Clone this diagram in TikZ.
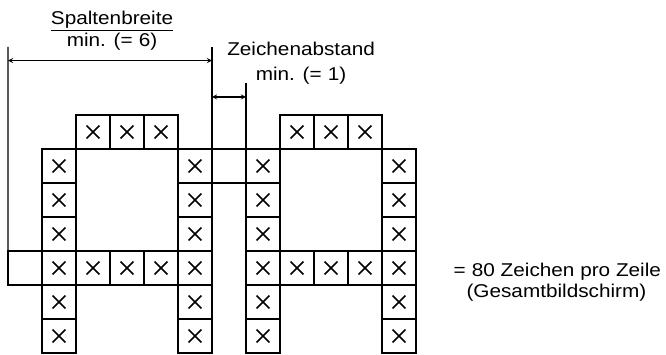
\documentclass[tikz,border=0pt]{standalone}
\usepackage{fontspec}
\setmainfont{Liberation Sans}[FakeStretch=1.12]
\usetikzlibrary{positioning}

\tikzset{
    cellbox/.style={draw, line width=1.1pt, minimum size=1cm, inner sep=0pt, outer sep=0pt},
    xmark/.style={line width=1.3pt},
    txt/.style={inner sep=0pt, anchor=base}
}

\begin{document}
\begin{tikzpicture}[>=stealth, line width=.9pt, font=\fontsize{15.5}{18}\selectfont]
\useasboundingbox (-1.2353,-0.0588) rectangle (18.3529,10.3824);
\foreach \o in {0,6}
{
    \foreach \c in {1,2,3}
    {
        \node[cellbox] (t\o-\c) at (\o+\c+.5,6.5) {};
        \draw[xmark] (t\o-\c.center) ++(-.19,-.19) -- ++(.38,.38) ++(-.38,0) -- ++(.38,-.38);
        \node[cellbox] (b\o-\c) at (\o+\c+.5,2.5) {};
        \draw[xmark] (b\o-\c.center) ++(-.19,-.19) -- ++(.38,.38) ++(-.38,0) -- ++(.38,-.38);
    }
    \foreach \c in {0,4}
    \foreach \r in {0,...,5}
    {
        \node[cellbox] (c\o-\c-\r) at (\o+\c+.5,\r+.5) {};
        \draw[xmark] (c\o-\c-\r.center) ++(-.19,-.19) -- ++(.38,.38) ++(-.38,0) -- ++(.38,-.38);
    }
}
\node[cellbox] (gap) at (5.5,5.5) {};
\node[cellbox] (pre) at (-.5,2.5) {};

\coordinate (sl) at (-1,9);
\coordinate (sr) at (5,9);
\coordinate (zr) at (6,7.95);
\draw (pre.north west)--(sl);
\draw (gap.north west)--(sr);
\draw (c6-0-5.north west)--(zr);

\coordinate (sa) at (-1,8.6);
\coordinate (sb) at (5,8.6);
\coordinate (za) at (5,7.53);
\coordinate (zb) at (6,7.53);
\draw[<->] (sa)--(sb);
\draw[<->] (za)--(zb);

\node[txt] (spalte) at (2.06,9.65) {\underline{Spaltenbreite}};
\node[txt] (spmin) at (2.06,9.0) {min. (=\,\,6)};
\node[txt] (abstand) at (7.62,8.76) {Zeichenabstand};
\node[txt] (abmin) at (7.62,8.0) {min. (=\,\,1)};
\node[txt, anchor=base west] (zeile) at (12.09,2.24) {=\,\,80 Zeichen pro Zeile};
\node[txt, anchor=base west] (schirm) at (12.47,1.62) {(Gesamtbildschirm)};
\end{tikzpicture}
\end{document}
